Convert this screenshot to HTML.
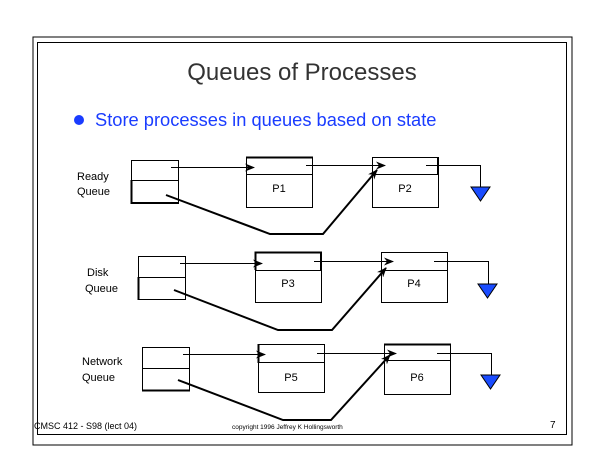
<!DOCTYPE html>
<html><head><style>
html,body{margin:0;padding:0;background:#fff;}
svg{display:block;}
text{font-family:"Liberation Sans",sans-serif;}
</style></head><body>
<svg width="605" height="467" viewBox="0 0 605 467" xmlns="http://www.w3.org/2000/svg">
<defs>
<marker id="ah" markerWidth="10" markerHeight="8" refX="9" refY="4" orient="auto" markerUnits="userSpaceOnUse">
<path d="M0,0 L10,4 L0,8 L3,4 Z" fill="#000"/>
</marker>
</defs>
<rect x="33" y="37" width="539" height="408" fill="none" stroke="#000" stroke-width="1"/>
<rect x="37.5" y="42.5" width="529" height="392" fill="none" stroke="#000" stroke-width="1"/>
<text x="302" y="80" font-size="24" fill="#333" text-anchor="middle">Queues of Processes</text>
<circle cx="79" cy="120" r="5" fill="#1a3cff"/>
<text x="95" y="126" font-size="18.3" fill="#1a3cff">Store processes in queues based on state</text>

<g stroke="#000" fill="none" stroke-width="1">
<!-- Row 1 -->
<rect x="131.5" y="160.5" width="47" height="43"/><line x1="131" y1="180.5" x2="179" y2="180.5"/>
<line x1="131.5" y1="180" x2="131.5" y2="204" stroke-width="2"/><line x1="131" y1="203" x2="179" y2="203" stroke-width="2"/>
<rect x="246.5" y="157.5" width="66" height="50"/><line x1="246" y1="174.5" x2="313" y2="174.5"/>
<line x1="246" y1="157.5" x2="313" y2="157.5" stroke-width="2"/>
<rect x="372.5" y="157.5" width="66" height="50"/><line x1="372" y1="174.5" x2="439" y2="174.5"/>
<line x1="438" y1="157" x2="438" y2="175" stroke-width="2"/>
<line x1="171" y1="167.5" x2="254" y2="167.5" marker-end="url(#ah)"/>
<line x1="306" y1="165.5" x2="385" y2="165.5" marker-end="url(#ah)"/>
<polyline points="426,165.5 480.5,165.5 480.5,188"/>
<polyline points="166,195 270,234 323,234 377,170" stroke-width="2" marker-end="url(#ah)"/>
<!-- Row 2 -->
<rect x="138.5" y="256.5" width="47" height="43"/><line x1="138" y1="277.5" x2="186" y2="277.5"/>
<line x1="138.5" y1="277" x2="138.5" y2="300" stroke-width="2"/>
<rect x="255.5" y="252.5" width="66" height="50"/><line x1="255" y1="270.5" x2="322" y2="270.5"/>
<path d="M255.5,270 V252.5 H321 V270" stroke-width="2"/>
<rect x="381.5" y="252.5" width="66" height="50"/><line x1="381" y1="270.5" x2="448" y2="270.5"/>
<line x1="180" y1="263.5" x2="262" y2="263.5" marker-end="url(#ah)"/>
<line x1="314" y1="261.5" x2="393" y2="261.5" marker-end="url(#ah)"/>
<polyline points="434,261.5 488.5,261.5 488.5,285"/>
<polyline points="174,290 278,330 332,330 386,268" stroke-width="2" marker-end="url(#ah)"/>
<!-- Row 3 -->
<rect x="142.5" y="347.5" width="47" height="43"/><line x1="142" y1="368.5" x2="190" y2="368.5"/>
<line x1="142" y1="390.5" x2="190" y2="390.5" stroke-width="2"/>
<rect x="258.5" y="344.5" width="66" height="48"/><line x1="258" y1="362.5" x2="325" y2="362.5"/>
<line x1="258.5" y1="344" x2="258.5" y2="363" stroke-width="2"/>
<rect x="384.5" y="344.5" width="66" height="50"/><line x1="384" y1="360.5" x2="451" y2="360.5"/>
<line x1="384" y1="344.5" x2="451" y2="344.5" stroke-width="2"/>
<line x1="183" y1="354.5" x2="265" y2="354.5" marker-end="url(#ah)"/>
<line x1="317" y1="353.5" x2="396" y2="353.5" marker-end="url(#ah)"/>
<polyline points="437,353.5 491.5,353.5 491.5,376"/>
<polyline points="178,380 283,420 331,420 390,355" stroke-width="2" marker-end="url(#ah)"/>
</g>
<g fill="#1a4cff" stroke="#000" stroke-width="1">
<polygon points="471,187 490,187 480.5,201"/>
<polygon points="478,284 497,284 487.5,298"/>
<polygon points="481,375 500,375 490.5,389"/>
</g>
<g font-size="11" fill="#000">
<text x="77" y="180">Ready</text><text x="77" y="195">Queue</text>
<text x="87" y="276">Disk</text><text x="85" y="292">Queue</text>
<text x="82" y="365">Network</text><text x="82" y="381">Queue</text>
<text x="279" y="192" text-anchor="middle">P1</text>
<text x="405" y="192" text-anchor="middle">P2</text>
<text x="288" y="287" text-anchor="middle">P3</text>
<text x="414" y="287" text-anchor="middle">P4</text>
<text x="291" y="381" text-anchor="middle">P5</text>
<text x="417" y="381" text-anchor="middle">P6</text>
</g>
<text x="34" y="429" font-size="9">CMSC 412 - S98  (lect 04)</text>
<text x="232" y="429" font-size="6.5">copyright 1996 Jeffrey K Hollingsworth</text>
<text x="550" y="428" font-size="10">7</text>
</svg>
</body></html>
